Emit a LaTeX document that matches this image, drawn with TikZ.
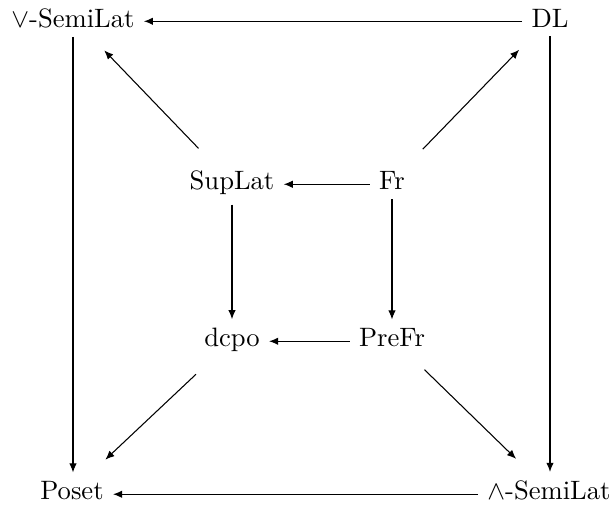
\documentclass[tikz,border=0pt]{standalone}
\usetikzlibrary{arrows.meta}
\begin{document}
\begin{tikzpicture}[x=0.3758pt,y=-0.3758pt,
  obj/.style={anchor=base,inner sep=3.33pt},
  arr/.style={draw,line width=0.4pt,-{Latex[length=3.4pt,width=2.8pt]}},
  diag/.style={arr,shorten <=7pt,shorten >=7pt}]
\useasboundingbox (0,0) rectangle (612,508);
\node[obj] (vs) at (73,27) {$\vee$-SemiLat};
\node[obj] (dl) at (550,27) {DL};
\node[obj] (sl) at (232,190) {SupLat};
\node[obj] (fr) at (392,190) {Fr};
\node[obj] (dc) at (232,347) {dcpo};
\node[obj] (pf) at (392,347) {PreFr};
\node[obj] (po) at (72,500) {Poset};
\node[obj] (ws) at (549,500) {$\wedge$-SemiLat};
\path[arr] (dl.mid west) -- (vs.mid east);
\path[arr] (vs) -- (vs|-po.north);
\path[arr] (dl) -- (dl|-ws.north);
\path[arr] (ws.mid west) -- (po.mid east);
\path[arr] (fr.mid west) -- (sl.mid east);
\path[arr] (fr) -- (pf);
\path[arr] (sl) -- (dc);
\path[arr] (pf.mid west) -- (dc.mid east);
\path[diag] (sl) -- (vs);
\path[diag] (fr) -- (dl);
\path[diag] (dc) -- (po);
\path[diag] (pf) -- (ws);
\end{tikzpicture}
\end{document}
